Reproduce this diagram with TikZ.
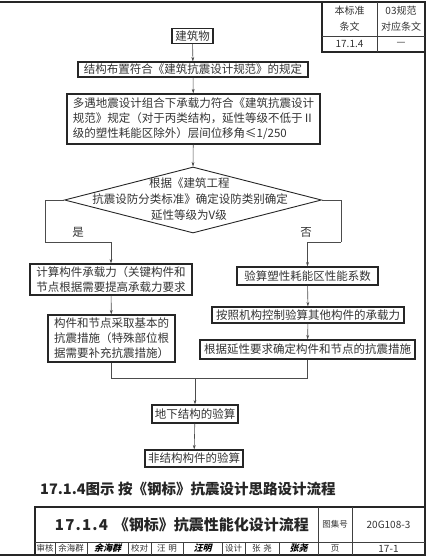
\documentclass[tikz,border=0pt]{standalone}
\usepackage{fontspec}
\setmainfont{Noto Sans CJK SC}
\newfontfamily\sigfont{Noto Sans CJK SC}[FakeSlant=0.25]
\usetikzlibrary{shapes.geometric,arrows.meta}
\newcommand{\fs}{\fontsize{11.5}{15}\selectfont}
\newcommand{\fsm}{\fontsize{8.5}{10}\selectfont}
\newcommand{\fst}{\fontsize{10}{16}\selectfont}
\newcommand{\ks}{\kern1.2pt}
\tikzset{
  bx/.style={draw=black!85, line width=1.1pt, inner sep=2pt, align=left, font=\fs, text=black!80},
  ln/.style={draw=black!70, line width=0.6pt},
  arr/.style={ln, -{Stealth[length=4.5pt,width=2.8pt]}},
  frm/.style={draw=black!85, line width=1.4pt},
  thin/.style={draw=black!75, line width=0.6pt},
  lbl/.style={font=\fs, text=black!80, inner sep=0pt},
  cell/.style={font=\fsm, text=black!80, inner sep=0pt},
}
\begin{document}
\begin{tikzpicture}[x=1pt,y=-1pt]
\useasboundingbox (0,0) rectangle (427,557);
% outer frame
\draw[frm] (0,2) -- (425,2) -- (425,555) -- (0,555);
% top-right table
\draw[frm] (322,2) -- (322,52) -- (425,52);
\draw[thin] (377,2) -- (377,52);
\draw[thin] (322,36) -- (425,36);
\node[cell, font=\fst, align=center] (t1) at (349.5,19) {本标准\\条文};
\node[cell, font=\fst, align=center] (t2) at (401,19) {03规范\\对应条文};
\node[cell, font=\fst] (t3) at (349.5,44) {17.1.4};
\node[cell, font=\fst] (t4) at (401,44) {—};
% flow nodes
\node[bx, minimum width=41, minimum height=14] (b1) at (192.5,36) {建筑物};
\node[bx, minimum width=230, minimum height=15] (b2) at (193,69.5) {结构布置符合《建筑抗震设计规范》的规定};
\node[bx, minimum width=253, minimum height=50] (b3) at (193.5,119) {多遇地震设计组合下承载力符合《建筑抗震设计\\规范》规定（对于丙类结构，延性等级不低于Ⅱ\\级的塑性耗能区除外）层间位移角≤1/250};
\node[draw=black!85, line width=0.9pt, diamond, minimum width=257, minimum height=66, inner sep=0pt] (d) at (193,200) {};
\node[lbl, anchor=west] (dt1) at (149,183) {根据《建筑工程};
\node[lbl] (dt2) at (190,199.5) {抗震设防分类标准》确定设防类别确定};
\node[lbl, anchor=west] (dt3) at (151,215.5) {延性等级为V级};
\node[lbl] (yes) at (78,232) {是};
\node[lbl] (no) at (306,232) {否};
\node[bx, minimum width=162, minimum height=31] (l1) at (111,279.5) {计算构件承载力（关键构件和\\节点根据需要提高承载力要求};
\node[bx, minimum width=127, minimum height=47] (l2) at (111.5,338.5) {构件和节点采取基本的\\抗震措施（特殊部位根\\据需要补充抗震措施）};
\node[bx, minimum width=141, minimum height=18] (r1) at (307.5,276) {验算塑性耗能区性能系数};
\node[bx, minimum width=192, minimum height=16] (r2) at (308,315) {按照机构控制验算其他构件的承载力};
\node[bx, minimum width=215, minimum height=19] (r3) at (307.5,349.5) {根据延性要求确定构件和节点的抗震措施};
\node[bx, minimum width=86, minimum height=18] (u1) at (195,414) {地下结构的验算};
\node[bx, minimum width=98, minimum height=17] (u2) at (194,458.5) {非结构构件的验算};
% helper coordinates
\coordinate (yl) at (45,242);
\coordinate (nr) at (341,242);
\coordinate (m) at (195,378);
% connectors
\draw[arr] (b1) -- (b2);
\draw[arr] (b2) -- (b3);
\draw[arr] (b3) -- (d.north);
\draw[ln] (d.west) -| (yl);
\draw[arr] (yl) -| (l1.north);
\draw[ln] (d.east) -| (nr);
\draw[arr] (nr) -| (r1.north);
\draw[arr] (l1) -- (l2);
\draw[arr] (r1) -- (r2);
\draw[arr] (r2) -- (r3);
\draw[ln] (l2.south) |- (m);
\draw[ln] (r3.south) |- (m);
\draw[arr] (m) -- (u1.north);
\draw[arr] (u1) -- (u2);
% caption
\node[anchor=west, inner sep=0pt, font=\fontsize{14.5}{16}\bfseries, text=black!85] (cap) at (40,489) {17.1.4图示 按《钢标》抗震设计思路设计流程};
% title block
\draw[frm] (35,555) -- (35,507) -- (425,507);
\draw[thin] (35,542) -- (425,542);
\draw[thin] (318,507) -- (318,555);
\draw[thin] (352,507) -- (352,555);
\foreach \xx in {55,87,128,151,183,222,245,279} { \draw[thin] (\xx,542) -- (\xx,555); }
\node[inner sep=0pt, font=\fontsize{15}{17}\bfseries, text=black!85] (title) at (182,524.5) {1\ks7\ks.\ks1\ks.\ks4 \,《钢标》抗震性能化设计流程};
\node[cell] (tj) at (335,524.5) {图集号};
\node[cell, font=\fontsize{10}{12}\selectfont] (tn) at (388.5,524.5) {20G108-3};
\node[cell] (c1) at (45,548.5) {审核};
\node[cell] (c2) at (71,548.5) {余海群};
\node[cell, font=\sigfont\fontsize{9}{10}\bfseries, text=black] (c3) at (107.5,548.5) {余海群};
\node[cell] (c4) at (139.5,548.5) {校对};
\node[cell] (c5) at (167,548.5) {汪\,\,明};
\node[cell, font=\sigfont\fontsize{9}{10}\bfseries, text=black] (c6) at (202.5,548.5) {汪明};
\node[cell] (c7) at (233.5,548.5) {设计};
\node[cell] (c8) at (262,548.5) {张\,\,尧};
\node[cell, font=\sigfont\fontsize{9}{10}\bfseries, text=black] (c9) at (298.5,548.5) {张尧};
\node[cell] (c10) at (335,548.5) {页};
\node[cell, font=\fontsize{10}{12}\selectfont] (c11) at (388.5,548.5) {17-1};
\end{tikzpicture}
\end{document}
